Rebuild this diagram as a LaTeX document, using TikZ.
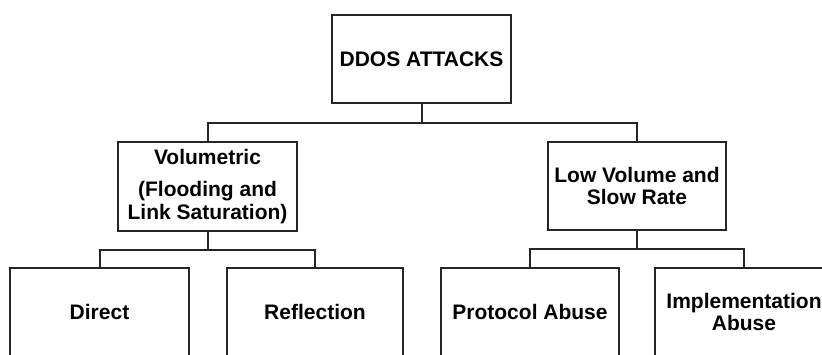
\documentclass[tikz,border=0pt]{standalone}
\usepackage{fontspec}
\setmainfont{Liberation Sans}
\usetikzlibrary{calc}
\begin{document}
\begin{tikzpicture}[x=1pt,y=1pt,
  box/.style={draw=black!85, line width=2pt, fill=white, inner sep=0pt,
    minimum height=88pt, align=center,
    font=\fontsize{21}{22.5}\selectfont\bfseries},
  link/.style={draw=black!85, line width=2pt}]
\clip (0,0) rectangle (822,354);
\fill[white] (0,0) rectangle (822,354);
\node[box, minimum width=179pt] (top) at (421.5,295) {DDOS ATTACKS};
\node[box, minimum width=179pt, minimum height=89pt] (vol) at (207.5,167.5) {Volumetric\\[10pt](Flooding and\\Link Saturation)};
\node[box, minimum width=178pt] (low) at (637,168) {Low Volume and\\Slow Rate};
\node[box, minimum width=179pt] (direct) at (99.5,42) {Direct};
\node[box, minimum width=176pt] (refl) at (315,42) {Reflection};
\node[box, minimum width=178pt] (proto) at (530,42) {Protocol Abuse};
\node[box, minimum width=178pt] (impl) at (744,42) {Implementation\\Abuse};
\coordinate (b1) at ($(top.south)+(0,-19)$);
\coordinate (b2) at ($(vol.south)+(0,-18)$);
\coordinate (b3) at ($(low.south)+(0,-18)$);
\draw[link] (top.south) -- (b1);
\draw[link] (vol.north) |- (b1) -| (low.north);
\draw[link] (vol.south) -- (b2);
\draw[link] (direct.north) |- (b2) -| (refl.north);
\draw[link] (low.south) -- (b3);
\draw[link] (proto.north) |- (b3) -| (impl.north);
\end{tikzpicture}
\end{document}
